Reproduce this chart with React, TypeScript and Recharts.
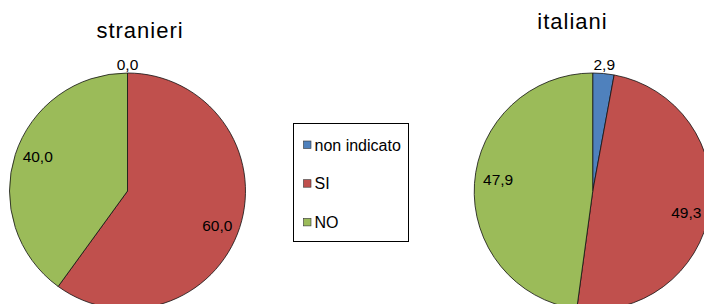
import { PieChart, Pie, Cell, Legend } from "recharts";

const categories = ["non indicato", "SI", "NO"];
const stranieri = [0.0, 60.0, 40.0];
const italiani = [2.9, 49.3, 47.9];
const titles = ["stranieri", "italiani"];

const COLORS = ["#4F81BD", "#C0504D", "#9BBB59"];
const RADIAN = Math.PI / 180;

const toRows = (values: number[]) =>
  categories.map((name, i) => ({ name, value: values[i] }));

const fmt = (v: number) => v.toFixed(1).replace(".", ",");

function renderLabel(props: any) {
  const { cx, cy, midAngle, outerRadius, value, percent } = props;
  const small = percent < 0.05;
  // tiny slices get their label outside the pie, like Excel's best fit
  const r = small ? outerRadius + 9 : outerRadius * 0.8;
  const cos = Math.cos(-midAngle * RADIAN);
  const x = cx + r * cos;
  // excel nudges inner labels a little: down on the right, up on the left
  const y = cy + r * Math.sin(-midAngle * RADIAN) + (small ? 0 : 6 * cos);
  return (
    <text
      x={x}
      y={y}
      fill="#000"
      textAnchor="middle"
      dominantBaseline="central"
      fontSize={15.5}
      fontFamily="Liberation Sans, Arial, sans-serif"
    >
      {fmt(value)}
    </text>
  );
}

function LegendBox() {
  return (
    <svg width={117} height={120} style={{ display: "block" }}>
      <rect x={0.5} y={0.5} width={115} height={118} fill="#fff" stroke="#000" strokeWidth={1} />
      {categories.map((c, i) => (
        <g key={c}>
          <rect
            x={10.5}
            y={18 + i * 38.7}
            width={7.5}
            height={7.5}
            fill={COLORS[i]}
            stroke="#333"
            strokeWidth={0.6}
          />
          <text
            x={21.5}
            y={22 + i * 38.7}
            dominantBaseline="central"
            fontSize={16}
            fontFamily="Liberation Sans, Arial, sans-serif"
            fill="#000"
          >
            {c}
          </text>
        </g>
      ))}
    </svg>
  );
}

export default function App() {
  return (
    <div style={{ position: "absolute", left: 0, top: 0, width: 704, height: 304, background: "#fff" }}>
      <PieChart width={704} height={304} margin={{ top: 0, right: 0, bottom: 0, left: 0 }}>
        <Pie
          data={toRows(stranieri)}
          dataKey="value"
          nameKey="name"
          cx={127.5}
          cy={191}
          outerRadius={118}
          startAngle={90}
          endAngle={-270}
          stroke="#111"
          strokeWidth={0.8}
          label={renderLabel}
          labelLine={false}
          isAnimationActive={false}
        >
          {categories.map((c, i) => (
            <Cell key={c} fill={COLORS[i]} />
          ))}
        </Pie>
        <Pie
          data={toRows(italiani)}
          dataKey="value"
          nameKey="name"
          cx={592.7}
          cy={191.5}
          outerRadius={118.5}
          startAngle={90}
          endAngle={-270}
          stroke="#111"
          strokeWidth={0.8}
          label={renderLabel}
          labelLine={false}
          isAnimationActive={false}
        >
          {categories.map((c, i) => (
            <Cell key={c} fill={COLORS[i]} />
          ))}
        </Pie>
        <Legend
          content={() => <LegendBox />}
          wrapperStyle={{ position: "absolute", left: 293, top: 123, width: 117, height: 120 }}
        />
        <text
          x={140}
          y={38}
          textAnchor="middle"
          fontSize={22}
          letterSpacing={1}
          fontFamily="Liberation Sans, Arial, sans-serif"
          fill="#000"
        >
          {titles[0]}
        </text>
        <text
          x={572.5}
          y={29}
          textAnchor="middle"
          fontSize={22}
          letterSpacing={1}
          fontFamily="Liberation Sans, Arial, sans-serif"
          fill="#000"
        >
          {titles[1]}
        </text>
      </PieChart>
    </div>
  );
}
